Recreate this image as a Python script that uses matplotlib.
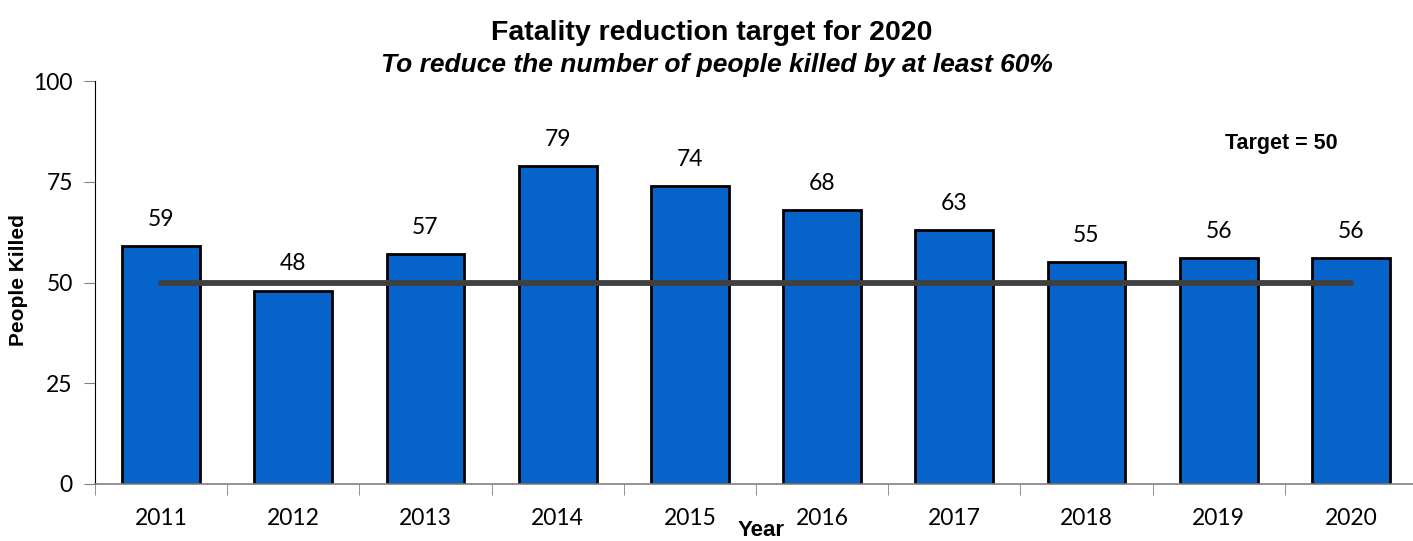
import matplotlib
matplotlib.use("Agg")
import matplotlib.pyplot as plt
import numpy as np

years = ["2011", "2012", "2013", "2014", "2015", "2016", "2017", "2018", "2019", "2020"]
killed = [59, 48, 57, 79, 74, 68, 63, 55, 56, 56]
target = 50

bar_color = "#0563C9"
line_color = "#404040"
num_font = "Lato"
lbl_font = "Liberation Sans"
W, H = 1413, 541

fig = plt.figure(figsize=(W / 100, H / 100), dpi=100)
# axes spans pixels x 95..1417, y 81..484
ax = fig.add_axes([95 / W, 1 - 484 / H, 1322 / W, 403 / H])

x = np.arange(len(years))
ax.bar(x, killed, width=0.59, color=bar_color, edgecolor="black", linewidth=2, zorder=2)
ax.plot([x[0], x[-1]], [target, target], color=line_color, linewidth=4.2,
        solid_capstyle="round", zorder=3)

for xi, v in zip(x, killed):
    ax.text(xi, v + 4, str(v), ha="center", va="bottom", fontsize=16.5, family=num_font)

ax.set_xlim(-0.5, len(years) - 0.5)
ax.set_ylim(0, 100)
ax.set_yticks([0, 25, 50, 75, 100])
ax.set_yticklabels(["0", "25", "50", "75", "100"], fontsize=16.5, family=num_font)
ax.set_xticks(x)
ax.set_xticklabels(years, fontsize=16.5, family=num_font)
ax.set_xticks(np.arange(len(years) + 1) - 0.5, minor=True)
ax.tick_params(axis="x", which="major", length=0, pad=17)
ax.tick_params(axis="x", which="minor", length=8, direction="out", color="#808080")
ax.tick_params(axis="y", length=8, direction="out", color="#808080", pad=8)

for s in ["top", "right"]:
    ax.spines[s].set_visible(False)
ax.spines["left"].set_color("black")
ax.spines["bottom"].set_color("#808080")
ax.spines["bottom"].set_linewidth(1.2)

fig.text(19 / W, 1 - 280 / H, "People Killed", rotation=90, ha="center", va="center",
         fontsize=15, fontweight="bold", family=lbl_font)
# the reference clips this label at the bottom edge; keep it just inside
fig.text(761 / W, 0.0, "Year", ha="center", va="bottom",
         fontsize=16, fontweight="bold", family=lbl_font)

fig.text(712 / W, 1 - 40 / H, "Fatality reduction target for 2020", ha="center",
         va="baseline", fontsize=20.5, fontweight="bold", family=lbl_font)
fig.text(717 / W, 1 - 72 / H, "To reduce the number of people killed by at least 60%",
         ha="center", va="baseline", fontsize=19, fontweight="bold", style="italic", family=lbl_font)
fig.text(1281 / W, 1 - 144 / H, "Target = 50", ha="center", va="center",
         fontsize=15.5, fontweight="bold", family=lbl_font)

fig.savefig("out.png", dpi=100)
